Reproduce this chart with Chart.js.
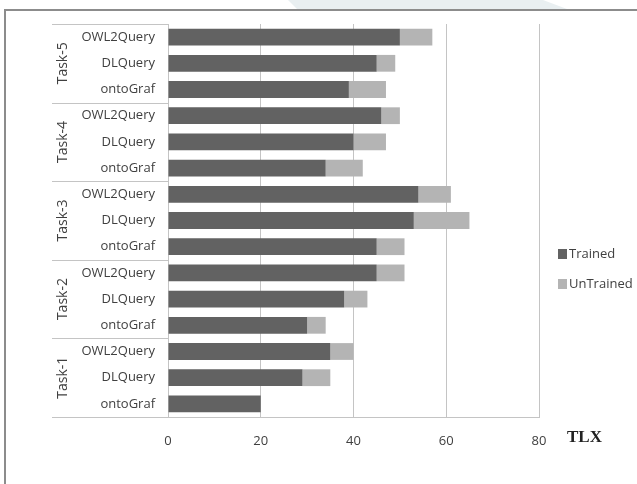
<!DOCTYPE html>
<html lang="en">
  <head>
    <meta charset="UTF-8" />
    <title>TLX by task</title>
    <style>
      body {
        margin: 0;
        background: #fff;
      }
      #wrap {
        position: relative;
        width: 637px;
        height: 484px;
        overflow: hidden;
      }
      #deco {
        position: absolute;
        left: 288px;
        top: 0;
        width: 280px;
        height: 9px;
        background: #e9eff1;
        clip-path: polygon(0 0, 255px 0, 279px 9px, 9px 9px);
      }
      #frame {
        position: absolute;
        left: 4px;
        top: 9px;
        width: 640px;
        height: 480px;
        border-left: 2px solid #8c8c8c;
        border-top: 2px solid #8c8c8c;
      }
      canvas {
        position: absolute;
        left: 0;
        top: 0;
      }
    </style>
  </head>
  <body>
    <div id="wrap">
      <div id="deco"></div>
      <div id="frame"></div>
      <canvas id="myChart" width="637" height="484"></canvas>
    </div>
    <script src="https://cdn.jsdelivr.net/npm/chart.js@4"></script>
    <script>
      // bottom to top: Task-1 ontoGraf ... Task-5 OWL2Query
      const tasks = ["Task-1", "Task-2", "Task-3", "Task-4", "Task-5"];
      const tools = ["ontoGraf", "DLQuery", "OWL2Query"];
      const trained = [20, 29, 35, 30, 38, 45, 45, 53, 54, 34, 40, 46, 39, 45, 50];
      const untrained = [0, 6, 5, 4, 5, 6, 6, 12, 7, 8, 7, 4, 8, 4, 7];
      const xTicks = [0, 20, 40, 60, 80];

      const labels = [];
      tasks.forEach((t) => tools.forEach((tool) => labels.push(tool)));

      const font = "'Open Sans', sans-serif";
      const lineColor = "#c4c4c4";

      const extras = {
        id: "extras",
        afterDraw(chart) {
          const ctx = chart.ctx;
          const y = chart.scales.y;
          const x = chart.scales.x;
          const area = chart.chartArea;
          const boxLeft = 52;
          ctx.save();
          ctx.strokeStyle = lineColor;
          ctx.lineWidth = 1;
          // group separators in the label area
          for (let g = 0; g <= tasks.length; g++) {
            const py = g === 0 ? area.bottom : g === tasks.length ? area.top : (y.getPixelForValue(g * 3 - 1) + y.getPixelForValue(g * 3)) / 2;
            ctx.beginPath();
            ctx.moveTo(boxLeft, Math.round(py) + 0.5);
            ctx.lineTo(area.left, Math.round(py) + 0.5);
            ctx.stroke();
          }
          // rotated task names
          ctx.fillStyle = "#404040";
          ctx.font = "14px " + font;
          ctx.textAlign = "center";
          ctx.textBaseline = "middle";
          tasks.forEach((t, g) => {
            const py = y.getPixelForValue(g * 3 + 1);
            ctx.save();
            ctx.translate(63, py);
            ctx.rotate(-Math.PI / 2);
            ctx.fillText(t, 0, 0);
            ctx.restore();
          });
          // axis title
          ctx.fillStyle = "#222";
          ctx.font = "bold 17px 'Liberation Serif', serif";
          ctx.textAlign = "left";
          ctx.fillText("TLX", x.getPixelForValue(80) + 28, 438);
          // legend
          ctx.font = "13px " + font;
          chart.data.datasets.forEach((ds, i) => {
            const ly = 254 + i * 30;
            ctx.fillStyle = ds.backgroundColor;
            ctx.fillRect(558, ly - 5, 9, 10);
            ctx.fillStyle = "#404040";
            ctx.fillText(ds.label, 569, ly);
          });
          ctx.restore();
        },
      };

      new Chart(document.getElementById("myChart").getContext("2d"), {
        type: "bar",
        data: {
          labels: labels,
          datasets: [
            {
              label: "Trained",
              data: trained,
              backgroundColor: "#626262",
              barPercentage: 0.64,
              categoryPercentage: 1,
            },
            {
              label: "UnTrained",
              data: untrained,
              backgroundColor: "#b4b4b4",
              barPercentage: 0.64,
              categoryPercentage: 1,
            },
          ],
        },
        plugins: [extras],
        options: {
          indexAxis: "y",
          responsive: false,
          animation: false,
          layout: {
            padding: { top: 24, right: 98, left: 0, bottom: 0 },
          },
          scales: {
            x: {
              stacked: true,
              min: 0,
              max: 80,
              afterBuildTicks: (scale) => {
                scale.ticks = xTicks.map((v) => ({ value: v }));
              },
              afterFit: (scale) => {
                scale.height = 67;
              },
              grid: {
                color: lineColor,
                drawTicks: false,
              },
              border: { color: lineColor },
              ticks: {
                padding: 16,
                color: "#404040",
                font: { family: font, size: 13 },
              },
            },
            y: {
              stacked: true,
              reverse: true,
              afterFit: (scale) => {
                scale.width = 168;
              },
              grid: { display: false, drawTicks: false },
              border: { color: lineColor },
              ticks: {
                padding: 13,
                color: "#404040",
                font: { family: font, size: 13 },
              },
            },
          },
          plugins: {
            legend: { display: false },
            tooltip: { enabled: false },
          },
        },
      });
    </script>
  </body>
</html>
